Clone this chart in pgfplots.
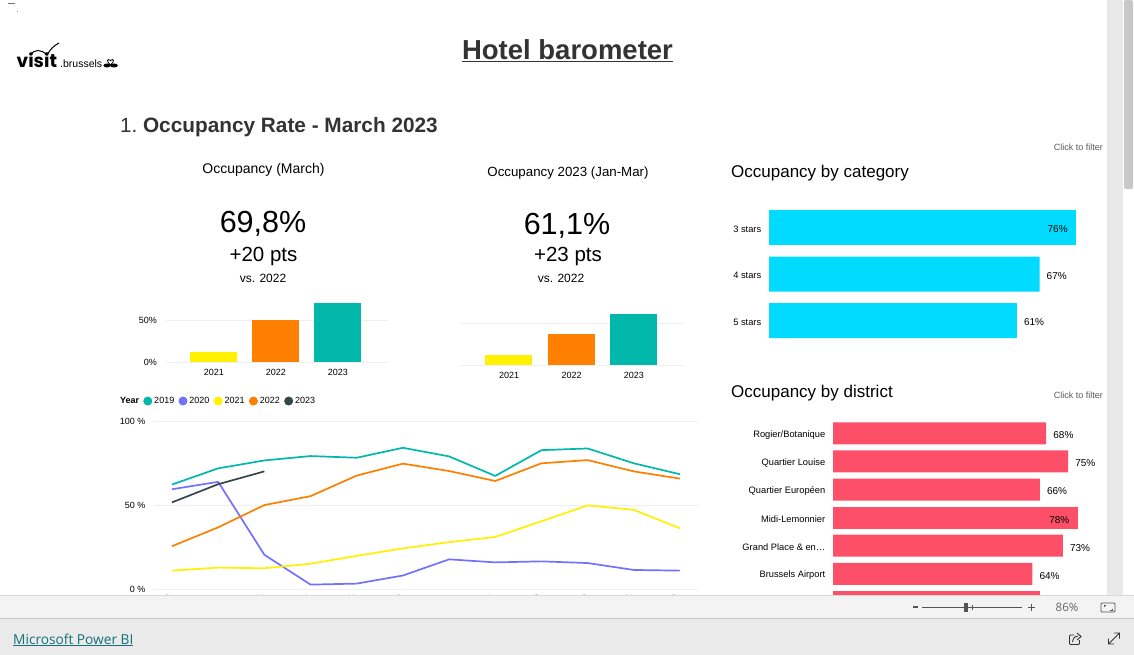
\documentclass[border=0pt]{standalone}
\usepackage{pgfplots}
\pgfplotsset{compat=1.18}
\usepackage{fontspec}
\setmainfont{Liberation Sans}
\newfontfamily\uifont{Open Sans}
\newfontfamily\logofont{Poppins}
\newcommand{\fs}[1]{\fontsize{#1}{#1}\selectfont}
\definecolor{cTeal}{HTML}{01B8AA}
\definecolor{cPurple}{HTML}{7272FF}
\definecolor{cYellow}{HTML}{FFF100}
\definecolor{cOrange}{HTML}{FF7F00}
\definecolor{cDark}{HTML}{374649}
\definecolor{cCyan}{HTML}{00DBFF}
\definecolor{cPink}{HTML}{FD5068}
\definecolor{cGrid}{HTML}{EFEFEF}
\definecolor{cHead}{HTML}{333333}
\definecolor{cLink}{HTML}{12707A}
\definecolor{cTrack}{HTML}{E9E9E9}
\definecolor{cThumb}{HTML}{C8C8C8}
\definecolor{cBar}{HTML}{F3F3F3}
\definecolor{cLine}{HTML}{D9D9D9}
\definecolor{cFoot}{HTML}{EAEAEA}
\definecolor{cIcon}{HTML}{555555}
\pgfplotsset{
  dash/.style={scale only axis, axis line style={draw=none}, major tick style={draw=none},
    tick label style={font=\fs{9}, text=black}, enlargelimits=false,
    grid style={cGrid, line width=1pt}, clip=false},
  smallbars/.style={dash, ybar, bar width=47pt, bar shift=0pt, ymin=0, ymax=72,
    xtick={0,1,2}, xticklabels={2021,2022,2023}, ymajorgrids, ytick={0,50},
    xticklabel style={yshift=1pt, xshift=0.5pt}, yticklabel style={xshift=-5pt}},
  hbars/.style={dash, xbar, bar shift=0pt, xmin=0, xmax=80, y dir=reverse,
    xtick=\empty, ytick=data, point meta=explicit symbolic,
    yticklabel style={font=\fs{9.3}, yshift=-1.5pt},
    nodes near coords={\fs{10}\pgfplotspointmeta\%},
    every node near coord/.append style={text=black, inner sep=0pt, yshift=-2pt}},
  outlab/.style={nodes near coords align={horizontal},
    every node near coord/.append style={anchor=west, xshift=7pt}},
  inlab/.style={nodes near coords align={horizontal},
    every node near coord/.append style={anchor=east, xshift=-8pt}},
}
\begin{document}
\begin{tikzpicture}[x=1pt,y=1pt]
\path[use as bounding box, fill=white] (0,0) rectangle (1134,-655);

% stray fragments and logo
\fill[black!55] (8,-3) rectangle (15,-4.2);
\fill[black!40] (16.5,-11) rectangle (18,-12.5);
\node[anchor=base west, inner sep=0pt, font=\logofont\bfseries\fs{18.5}] at (16.5,-67.5) {visit};
\node[anchor=base west, inner sep=0pt, font=\fs{10.5}] at (60,-67.5) {.brussels};
\draw[line width=1pt] (30,-55) .. controls (35,-49) and (41,-49) .. (47,-55) .. controls (50,-50) and (53,-46) .. (59,-43);
\fill (107,-65.5) ellipse (3.6 and 2);
\fill (114,-65.5) ellipse (3.8 and 2);
\draw[line width=0.8pt] (110.5,-65) .. controls (106,-61) and (107,-58) .. (110.5,-60.5) .. controls (114,-58) and (115,-61) .. (110.5,-65);

% headings
\node[font=\fs{27.5}\bfseries, text=cHead, inner sep=0pt] at (567.5,-50.5) {\underline{Hotel barometer}};
\node[anchor=base west, inner sep=0pt, font=\fs{20.5}, text=cHead] at (120,-132.5) {1.\hspace{0.28em}\fs{20.8}\textbf{Occupancy Rate - March 2023}};

% KPI cards
\node[font=\fs{14}] at (263.5,-170) {Occupancy (March)};
\node[font=\fs{30.5}] at (263,-224) {69,8\%};
\node[font=\fs{20.5}] at (263.5,-256) {+20 pts};
\node[font=\fs{12}] at (263,-278) {vs. 2022};
\node[font=\fs{13.3}] at (568,-173) {Occupancy 2023 (Jan-Mar)};
\node[font=\fs{30.5}] at (567,-226) {61,1\%};
\node[font=\fs{20.5}] at (568,-256) {+23 pts};
\node[font=\fs{12}] at (561,-278) {vs. 2022};

% small bars, March
\begin{axis}[smallbars, at={(165.5pt,-362.3pt)}, anchor=south west, width=222.5pt, height=60.5pt,
  xmin=-0.774, xmax=2.815, yticklabels={0\%,50\%}]
\addplot[fill=cYellow, draw=none] coordinates {(0,12.3)};
\addplot[fill=cOrange, draw=none] coordinates {(1,50)};
\addplot[fill=cTeal, draw=none] coordinates {(2,70.5)};
\end{axis}

% small bars, Jan-Mar
\begin{axis}[smallbars, at={(460pt,-365.3pt)}, anchor=south west, width=224pt, height=60.1pt,
  xmin=-0.78, xmax=2.81, yticklabels={,}]
\addplot[fill=cYellow, draw=none] coordinates {(0,12.4)};
\addplot[fill=cOrange, draw=none] coordinates {(1,37.5)};
\addplot[fill=cTeal, draw=none] coordinates {(2,61.1)};
\end{axis}

% monthly occupancy lines
\begin{axis}[dash, at={(154pt,-589.5pt)}, anchor=south west, width=544pt, height=168.5pt,
  xmin=-0.39, xmax=11.39, ymin=0, ymax=100, ymajorgrids, ytick={0,50,100},
  yticklabels={0 \%,50 \%,100 \%}, yticklabel style={xshift=-5pt},
  xtick={0,1,2,3,4,5,6,7,8,9,10,11}, xticklabels={Jan,Feb,Mar,Apr,May,Jun,Jul,Aug,Sep,Oct,Nov,Dec},
  xticklabel style={yshift=-2.5pt},
  legend columns=-1,
  legend style={at={(-0.0665,1.1185)}, anchor=west, draw=none, fill=none, font=\fs{9},
    inner sep=0pt, /tikz/every even column/.append style={column sep=2.3pt}},
  legend image code/.code={\fill[#1] (0.23em,0) circle (3.6pt);},
  every axis plot/.append style={line width=1.7pt, line join=round}]
\addlegendimage{empty legend}\addlegendentry{\textbf{Year}\hspace{2.5pt}}
\addplot[cTeal] coordinates {(0,62.3)(1,71.9)(2,76.6)(3,79.2)(4,78.2)(5,84.1)(6,79)(7,67.4)(8,82.7)(9,83.7)(10,74.9)(11,68.4)};
\addlegendentry{2019}
\addplot[cPurple] coordinates {(0,59.5)(1,63.9)(2,20.6)(3,2.9)(4,3.5)(5,8.3)(6,17.9)(7,16.1)(8,16.7)(9,15.7)(10,11.6)(11,11.2)};
\addlegendentry{2020}
\addplot[cYellow] coordinates {(0,11.2)(1,13)(2,12.6)(3,15.3)(4,20)(5,24.4)(6,28.1)(7,31.2)(8,40.5)(9,49.9)(10,47.3)(11,36.3)};
\addlegendentry{2021}
\addplot[cOrange] coordinates {(0,25.7)(1,36.9)(2,50.1)(3,55.4)(4,67.6)(5,74.7)(6,70.3)(7,64.4)(8,74.9)(9,76.8)(10,70.1)(11,65.8)};
\addlegendentry{2022}
\addplot[cDark] coordinates {(0,51.7)(1,62.5)(2,70.1)};
\addlegendentry{2023}
\end{axis}

% by category
\node[anchor=base west, inner sep=0pt, font=\fs{17}] at (731,-177.5) {Occupancy by category};
\node[anchor=base east, inner sep=0pt, font=\fs{9}, text=black!65] at (1103,-151) {Click to filter};
\begin{axis}[hbars, at={(769pt,-343.75pt)}, anchor=south west, width=323pt, height=139.5pt,
  ymin=-0.5, ymax=2.5, bar width=35pt, ytick={0,1,2}, yticklabels={3 stars,4 stars,5 stars}]
\addplot[fill=cCyan, draw=none, inlab] coordinates {(76,0) [76]};
\addplot[fill=cCyan, draw=none, outlab] coordinates {(67,1) [67] (61.4,2) [61]};
\end{axis}

% by district
\node[anchor=base west, inner sep=0pt, font=\fs{17}] at (731,-397) {Occupancy by district};
\node[anchor=base east, inner sep=0pt, font=\fs{9}, text=black!65] at (1103,-398) {Click to filter};
\begin{axis}[hbars, at={(833pt,-616pt)}, anchor=south west, width=250.8pt, height=196.75pt,
  ymin=-0.5, ymax=6.5, bar width=22pt, ytick={0,1,2,3,4,5,6},
  yticklabels={Rogier/Botanique,Quartier Louise,Quartier Européen,Midi-Lemonnier,Grand Place \& en…,Brussels Airport,{}}]
\addplot[fill=cPink, draw=none, outlab] coordinates {(68,0) [68] (75,1) [75] (66,2) [66] (73.3,4) [73] (63.6,5) [64]};
\addplot[fill=cPink, draw=none, inlab] coordinates {(78,3) [78]};
\addplot[fill=cPink, draw=none, nodes near coords={}] coordinates {(66,6) [66]};
\end{axis}

% report chrome, drawn over the charts
\fill[white] (1107,0) rectangle (1134,-596);
\fill[cTrack] (1107,0) rectangle (1123,-596);
\fill[cThumb, rounded corners=2pt] (1124,0) rectangle (1133,-189);
\fill[cBar] (0,-596) rectangle (1134,-618);
\draw[cLine, line width=0.8pt] (0,-595.6) -- (1134,-595.6);
\fill[cFoot] (0,-618) rectangle (1134,-655);
\draw[cThumb, line width=1pt] (0,-618) -- (1134,-618);
\node[anchor=base west, inner sep=0pt, font=\uifont\fs{13.7}, text=cLink] at (13,-644) {\underline{Microsoft Power BI}};
\fill[cIcon] (913,-606.4) rectangle (917.5,-608);
\draw[cIcon, line width=0.7pt] (922,-607) -- (1022,-607);
\draw[cIcon, line width=0.7pt] (972.5,-604.5) -- (972.5,-609.5);
\fill[cIcon] (964,-602.5) rectangle (968,-612);
\draw[cIcon, line width=0.9pt] (1028,-607) -- (1035,-607) (1031.5,-603.5) -- (1031.5,-610.5);
\node[font=\uifont\fs{11.5}, text=black!60, inner sep=0pt] at (1067,-607) {86\%};
\draw[cIcon, line width=0.8pt, rounded corners=1pt] (1101,-603) rectangle (1115,-612);
\draw[cIcon, line width=0.6pt] (1104,-606.5) -- (1104,-605) -- (1106,-605) (1112,-608.5) -- (1112,-610) -- (1110,-610);
\draw[black!80, line width=0.9pt, rounded corners=1pt] (1074,-635) -- (1069.5,-635) -- (1069.5,-644.5) -- (1079.5,-644.5) -- (1079.5,-640);
\draw[black!80, line width=0.9pt] (1072.5,-642) .. controls (1073,-637) and (1076,-636) .. (1078,-636) (1077,-633) -- (1081,-636.5) -- (1077,-640);
\draw[black!80, line width=0.9pt] (1108.5,-644) -- (1119.5,-633) (1108.5,-638.5) -- (1108.5,-644) -- (1114,-644) (1114,-633) -- (1119.5,-633) -- (1119.5,-638.5);
\end{tikzpicture}
\end{document}
